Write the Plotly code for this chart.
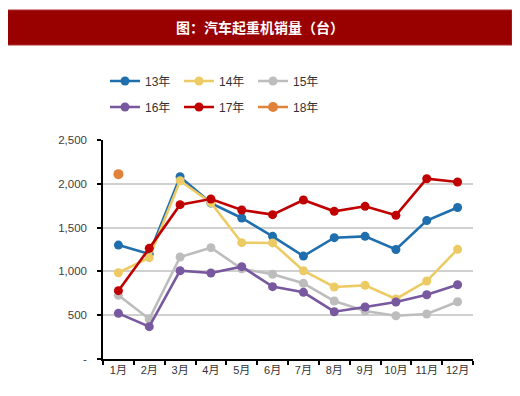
import plotly.graph_objects as go

months = ["1月", "2月", "3月", "4月", "5月", "6月", "7月", "8月", "9月", "10月", "11月", "12月"]
y13 = [1300, 1200, 2080, 1780, 1610, 1400, 1175, 1385, 1400, 1250, 1580, 1730]
y14 = [985, 1157, 2036, 1784, 1328, 1325, 1008, 822, 841, 685, 890, 1252]
y15 = [727, 457, 1164, 1271, 1030, 967, 864, 662, 548, 494, 514, 654]
y16 = [521, 369, 1008, 982, 1054, 826, 761, 540, 594, 651, 734, 848]
y17 = [780, 1263, 1762, 1826, 1701, 1648, 1815, 1686, 1743, 1640, 2058, 2021]
y18 = [2110]
y_tickvals = [0, 500, 1000, 1500, 2000, 2500]
y_ticktext = ["-", "500", "1,000", "1,500", "2,000", "2,500"]
title_text = "图：汽车起重机销量（台）"

OFF = 8  # page body margin
W, H = 520 - OFF, 396 - OFF
# plot area in reference image pixels
L, R, T, B = 103, 473, 140, 359

def px_x(x):
    return (x - L) / (R - L)

def px_y(y):
    return (B - y) / (B - T)

series = [
    ("13年", y13, "#1F6EAD", "legend"),
    ("14年", y14, "#EDCB64", "legend"),
    ("15年", y15, "#BDBDBD", "legend"),
    ("16年", y16, "#78589E", "legend2"),
    ("17年", y17, "#C00000", "legend2"),
    ("18年", y18, "#E0823A", "legend2"),
]

fig = go.Figure()
for name, vals, color, lg in series:
    fig.add_trace(go.Scatter(
        x=months[:len(vals)], y=vals, name=name, mode="lines+markers",
        line=dict(color=color, width=2.6),
        marker=dict(color=color, size=10 if name == "18年" else 9),
        legend=lg,
    ))

font = "Liberation Sans, Arial, Noto Sans CJK SC, sans-serif"
legend_common = dict(
    orientation="h", xanchor="left", yanchor="middle",
    font=dict(family=font, size=12, color="#333333"),
    bgcolor="rgba(0,0,0,0)", entrywidth=29, entrywidthmode="pixels",
    itemwidth=30, tracegroupgap=0,
)
fig.update_layout(
    width=W, height=H,
    margin=dict(l=L - OFF, r=520 - R, t=T - OFF, b=396 - B),
    paper_bgcolor="white", plot_bgcolor="white",
    font=dict(family=font, size=11, color="#404040"),
    legend=dict(x=px_x(105), y=px_y(81), **legend_common),
    legend2=dict(x=px_x(105), y=px_y(107), **legend_common),
    xaxis=dict(
        type="category", showgrid=False, showline=True, linecolor="#000000", linewidth=1.5,
        ticks="outside", ticklen=4, tickcolor="#000000", tickwidth=1.5, tickson="boundaries",
        tickangle=0,
        tickfont=dict(family=font, size=11, color="#333333"),
        range=[-0.5, 11.5],
    ),
    yaxis=dict(
        range=[0, 2500], tickvals=y_tickvals, ticktext=y_ticktext,
        showgrid=True, gridcolor="#D0D0D0", gridwidth=1.5,
        showline=True, linecolor="#000000", linewidth=1.5,
        ticks="outside", ticklen=4, tickcolor="#000000", tickwidth=1.5,
        ticklabelstandoff=8,
        tickfont=dict(family=font, size=11.5, color="#404040"),
        zeroline=False,
    ),
    shapes=[dict(
        type="rect", xref="paper", yref="paper",
        x0=px_x(7), x1=px_x(512), y0=px_y(45), y1=px_y(10),
        fillcolor="#990000", line=dict(color="#B03030", width=1), layer="above",
    )],
    annotations=[dict(
        text="<b>" + title_text + "</b>", xref="paper", yref="paper",
        x=px_x(259.5), y=px_y(27.5), xanchor="center", yanchor="middle",
        showarrow=False,
        font=dict(family="Noto Sans CJK SC, sans-serif", size=14, color="white"),
    )],
)

fig.write_html("out.html")
